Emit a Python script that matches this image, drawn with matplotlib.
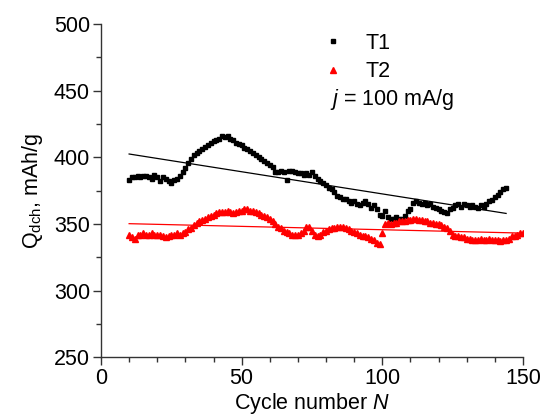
import numpy as np
import matplotlib
matplotlib.use("Agg")
import matplotlib.pyplot as plt
from matplotlib.lines import Line2D

plt.rcParams['font.family'] = ['Liberation Sans', 'DejaVu Sans']
plt.rcParams['mathtext.fontset'] = 'custom'
plt.rcParams['mathtext.rm'] = 'Liberation Sans'
plt.rcParams['mathtext.it'] = 'Liberation Sans:italic'

# ---- data ----
t1_cycles = list(range(10, 145))
t1_values = [
    383, 385, 385, 386, 385, 386, 386, 385, 384, 387,   # 10-19
    385, 382, 385, 384, 382, 381, 383, 384, 386, 389,   # 20-29
    392, 396, 399, 402, 403, 405, 406, 408, 409, 411,   # 30-39
    412, 413, 414, 416, 415, 416, 414, 413, 411, 410,   # 40-49
    409, 407, 406, 405, 403, 402, 400, 399, 397, 396,   # 50-59
    394, 393, 389, 389, 390, 389, 383, 390, 390, 389,   # 60-69
    388, 388, 387, 388, 387, 389, 386, 384, 382, 381,   # 70-79
    379, 377, 376, 374, 371, 370, 369, 369, 367, 366,   # 80-89
    367, 365, 364, 366, 367, 365, 362, 364, 361, 357,   # 90-99
    356, 360, 355, 354, 354, 355, 354, 354, 356, 360,   # 100-109
    361, 366, 367, 366, 365, 366, 364, 365, 363, 362,   # 110-119
    361, 360, 359, 358, 361, 362, 364, 365, 363, 365,   # 120-129
    364, 363, 364, 363, 362, 364, 363, 365, 367, 368,   # 130-139
    370, 372, 374, 376, 377,                            # 140-144
]
t2_cycles = list(range(10, 151))
t2_values = [
    342, 340, 339, 342, 342, 343, 342, 342, 343, 342,   # 10-19
    342, 342, 341, 340, 341, 342, 342, 343, 342, 343,   # 20-29
    344, 346, 347, 349, 351, 352, 353, 354, 355, 356,   # 30-39
    357, 358, 359, 359, 359, 360, 359, 358, 359, 360,   # 40-49
    360, 361, 361, 360, 360, 359, 358, 357, 356, 355,   # 50-59
    354, 352, 350, 348, 347, 345, 344, 343, 342, 342,   # 60-69
    342, 343, 345, 348, 348, 345, 342, 341, 342, 344,   # 70-79
    345, 346, 347, 347, 348, 348, 348, 347, 346, 345,   # 80-89
    344, 343, 342, 341, 341, 340, 339, 338, 336, 335,   # 90-99
    343, 350, 351, 350, 351, 351, 352, 352, 352, 353,   # 100-109
    353, 354, 354, 353, 353, 352, 352, 351, 351, 350,   # 110-119
    350, 349, 348, 347, 345, 342, 341, 341, 340, 340,   # 120-129
    339, 339, 338, 338, 338, 339, 338, 338, 339, 338,   # 130-139
    338, 338, 337, 338, 338, 339, 341, 341, 342, 343,   # 140-149
    343,                                                # 150
]
series_labels = ["T1", "T2"]
x_ticks = [0, 50, 100, 150]
y_ticks = [250, 300, 350, 400, 450, 500]

# ---- figure ----
fig = plt.figure(figsize=(5.45, 4.19), dpi=100)
ax = fig.add_axes([0.1853, 0.1473, 0.7743, 0.7954])

fs = 15.5
ms_sq, ms_tri = 3.3, 3.8
ax.plot(t1_cycles, t1_values, linestyle='none', marker='s', ms=ms_sq,
        color='black', mec='black')
ax.plot(t2_cycles, t2_values, linestyle='none', marker='^', ms=ms_tri,
        color='red', mec='red')

# linear fits
for xs, ys, c in [(t1_cycles, t1_values, 'black'), (t2_cycles, t2_values, 'red')]:
    xs = np.asarray(xs, float); ys = np.asarray(ys, float)
    k, b = np.polyfit(xs, ys, 1)
    ax.plot([xs[0], xs[-1]], [k * xs[0] + b, k * xs[-1] + b], color=c, lw=0.9)

ax.set_xlim(0, 150)
ax.set_ylim(250, 500)
ax.set_xticks(x_ticks)
ax.set_yticks(y_ticks)
ax.set_xticks(np.arange(0, 151, 10), minor=True)
ax.set_yticks(np.arange(250, 501, 25), minor=True)
ax.tick_params(which='major', direction='out', length=6, width=1, labelsize=fs,
               colors='#333333', labelcolor='black', pad=2)
ax.tick_params(which='minor', direction='out', length=3.5, width=1, colors='#333333')
for s in ['top', 'right']:
    ax.spines[s].set_visible(False)
for s in ['left', 'bottom']:
    ax.spines[s].set_color('#333333')
    ax.spines[s].set_linewidth(1)

ax.set_xlabel(r'Cycle number $\it{N}$', fontsize=fs, labelpad=1)
ax.set_ylabel(r'Q$_{\rm dch}$, mAh/g', fontsize=fs, labelpad=6)

handles = [Line2D([], [], ls='none', marker='s', ms=ms_sq, color='black'),
           Line2D([], [], ls='none', marker='^', ms=ms_tri, color='red')]
ax.legend(handles, series_labels, loc='upper left', bbox_to_anchor=(0.505, 1.0),
          frameon=False, fontsize=fs, handlelength=1.0, handletextpad=1.0,
          labelspacing=0.35, borderaxespad=0.0)
ax.text(0.543, 0.772, r'$\it{j}$ = 100 mA/g', transform=ax.transAxes,
        fontsize=fs, va='center', ha='left')

fig.savefig('out.png', dpi=100)
